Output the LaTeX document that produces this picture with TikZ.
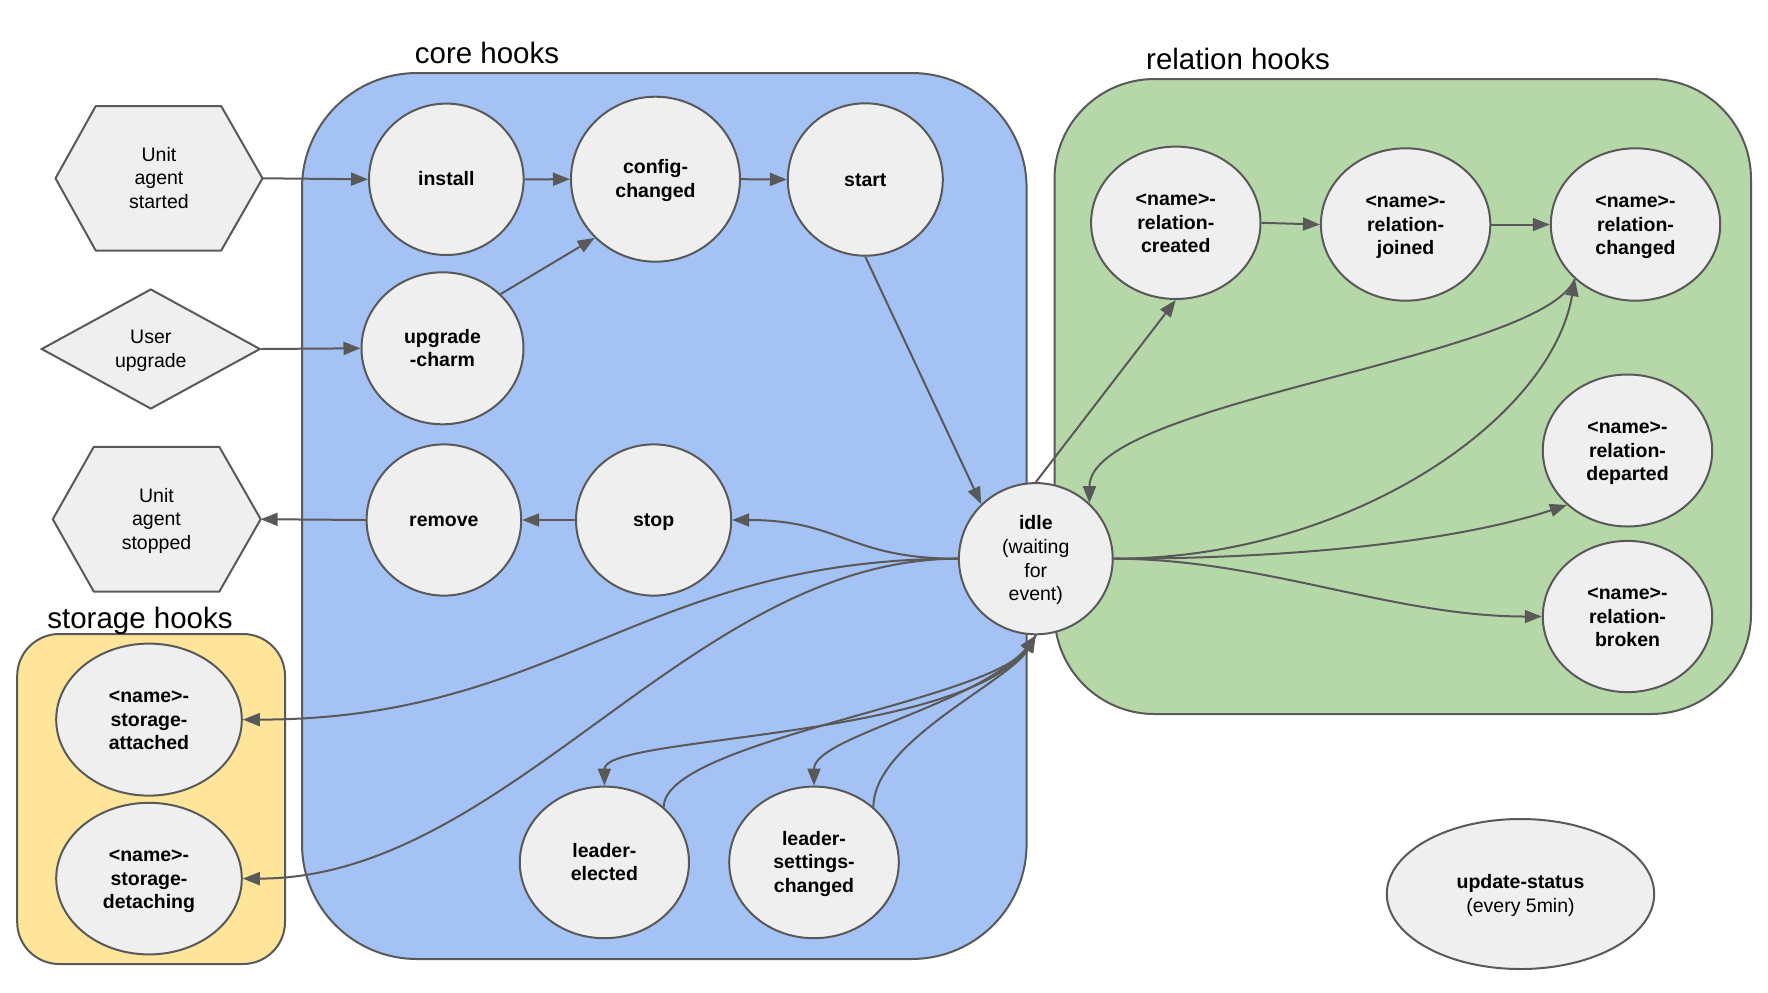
\documentclass[tikz,border=0pt]{standalone}
\usepackage{fontspec}
\setmainfont{Liberation Sans}
\usetikzlibrary{shapes.geometric,arrows.meta}
\definecolor{coreblue}{HTML}{A4C2F4}
\definecolor{relgreen}{HTML}{B6D7A8}
\definecolor{storyellow}{HTML}{FFE599}
\definecolor{nodegray}{HTML}{EFEFEF}
\definecolor{lineg}{HTML}{595959}
\newcommand\hktop{\rule{0pt}{8.7pt}}
\begin{document}
\begin{tikzpicture}[x=0.5pt,y=-0.5pt,
  struts/.style={execute at end node={\rule[-2.2pt]{0pt}{2.2pt}}},
  hook/.style={ellipse, draw=lineg, fill=nodegray, line width=1pt, inner sep=0pt,
    align=center, struts, font=\bfseries\fontsize{9.75}{11.8}\selectfont},
  idlenode/.style={hook, font=\fontsize{9.75}{11.8}\selectfont},
  evshape/.style={draw=lineg, fill=nodegray, line width=1pt, line join=round},
  evtext/.style={rectangle, draw=none, inner sep=0pt, align=center, struts,
    font=\fontsize{9.75}{11.8}\selectfont},
  dianode/.style={diamond, shape aspect=1.8, draw=lineg, fill=nodegray, line width=1pt,
    inner sep=0pt, align=center, struts, font=\fontsize{9.75}{11.8}\selectfont},
  grp/.style={draw=lineg, line width=1pt},
  heading/.style={anchor=base, inner sep=0pt, font=\fontsize{14.75}{17}\selectfont},
  conn/.style={draw=lineg, line width=1pt, -{Triangle[length=8.5pt,width=6.5pt]}},
]
\useasboundingbox (0,0) rectangle (1768,992);

% group boxes
\draw[grp, fill=coreblue, rounded corners=57.5pt] (302,73) rectangle (1026.6,959);
\draw[grp, fill=relgreen, rounded corners=50pt] (1054.5,79) rectangle (1751,714);
\draw[grp, fill=storyellow, rounded corners=21pt] (17.2,634) rectangle (285,964);

\node[heading] (hcore) at (487,63) {core hooks};
\node[heading] (hrel) at (1238,69) {relation hooks};
\node[heading] (hsto) at (140,628) {storage hooks};

% event shapes
\draw[evshape] (159,178.3) ++(-103.5,0) -- ++(40.2,-72.2) -- ++(125.5,0) -- ++(41.3,72.2)
  -- ++(-41.3,72.2) -- ++(-125.5,0) -- cycle;
\node[evtext, minimum width=103.5pt, minimum height=72.2pt] (h1) at (159,178.3) {\hktop Unit\\agent\\started};
\draw[evshape] (156.5,519.2) ++(-103.7,0) -- ++(41,-72.4) -- ++(125.5,0) -- ++(41.4,72.4)
  -- ++(-41.4,72.4) -- ++(-125.5,0) -- cycle;
\node[evtext, minimum width=103.7pt, minimum height=72.4pt] (h2) at (156.5,519.2) {\hktop Unit\\agent\\stopped};
\node[dianode, minimum width=109.5pt, minimum height=60pt] (dia) at (150.8,349) {\hktop User\\upgrade};

% core hooks
\node[hook, minimum width=77.3pt, minimum height=75.7pt] (install) at (446.3,179.3) {\hktop install};
\node[hook, minimum width=84.5pt, minimum height=82.5pt] (cfg) at (655.5,179.2) {\hktop config-\\changed};
\node[hook, minimum width=77.5pt, minimum height=76.2pt] (start) at (865.3,179.5) {\hktop start};
\node[hook, minimum width=81pt, minimum height=76pt] (upg) at (442.5,348.3) {\hktop upgrade\\-charm};
\node[hook, minimum width=77.3pt, minimum height=75.6pt] (remove) at (443.9,520) {\hktop remove};
\node[hook, minimum width=77.6pt, minimum height=75.6pt] (stop) at (653.6,520) {\hktop stop};
\node[idlenode, minimum width=76.9pt, minimum height=75.6pt] (idle) at (1035.8,558.7) {\hktop\textbf{idle}\\(waiting\\for\\event)};
\node[hook, minimum width=84.6pt, minimum height=75.8pt] (le) at (604.4,862.4) {\hktop leader-\\elected};
\node[hook, minimum width=84.8pt, minimum height=75.8pt] (lsc) at (814,862.4) {\hktop leader-\\settings-\\changed};

% storage hooks
\node[hook, minimum width=92.8pt, minimum height=76pt] (sa) at (149,719.6) {\hktop <name>-\\storage-\\attached};
\node[hook, minimum width=92.8pt, minimum height=75.8pt] (sd) at (149,878.6) {\hktop <name>-\\storage-\\detaching};

% relation hooks
\node[hook, minimum width=84.7pt, minimum height=76.2pt] (rc) at (1175.8,222.8) {\hktop <name>-\\relation-\\created};
\node[hook, minimum width=84.7pt, minimum height=76.2pt] (rj) at (1405.6,224.5) {\hktop <name>-\\relation-\\joined};
\node[hook, minimum width=84.7pt, minimum height=76.2pt] (rch) at (1635.5,224.5) {\hktop <name>-\\relation-\\changed};
\node[hook, minimum width=84.7pt, minimum height=76pt] (rd) at (1627.5,450.5) {\hktop <name>-\\relation-\\departed};
\node[hook, minimum width=84.7pt, minimum height=75.6pt] (rb) at (1627.5,616.5) {\hktop <name>-\\relation-\\broken};

% update-status
\node[idlenode, minimum width=133.7pt, minimum height=75pt] (us) at (1520.5,894) {\hktop\textbf{update-status}\\(every 5min)};

% connectors
\draw[conn] (h1.east) -- (install.west);
\draw[conn] (dia.east) -- (upg.west);
\draw[conn] (install.east) -- (cfg.west);
\draw[conn] (cfg.east) -- (start.west);
\draw[conn] (upg.43) -- (cfg.224);
\draw[conn] (start.south) -- (idle.135);
\draw[conn] (idle.west) .. controls +(-110,0) and +(110,0) .. (stop.east);
\draw[conn] (stop.west) -- (remove.east);
\draw[conn] (remove.west) -- (h2.east);
\draw[conn] (idle.west) .. controls +(-315,0) and +(315,0) .. (sa.east);
\draw[conn] (idle.west) .. controls +(-266,0) and +(266,0) .. (sd.east);
\draw[conn] (idle.south) .. controls +(-46,106) and +(0,-52) .. (le.north);
\draw[conn] (le.43) .. controls +(0,-66) and +(-46,66) .. (idle.south);
\draw[conn] (idle.south) .. controls +(-36,66) and +(0,-51) .. (lsc.north);
\draw[conn] (lsc.43) .. controls +(0,-66) and +(-26,46) .. (idle.south);
\draw[conn] (idle.north) -- (rc.south);
\draw[conn] (rc.east) -- (rj.west);
\draw[conn] (rj.east) -- (rch.west);
\draw[conn] (idle.east) .. controls +(237,0) and +(-24,140) .. (rch.222);
\draw[conn] (rch.222) .. controls +(-34,80) and +(0,-102) .. (idle.46);
\draw[conn] (idle.east) .. controls +(200,0) and +(-100,33) .. (rd.222);
\draw[conn] (idle.east) .. controls +(150,0) and +(-150,0) .. (rb.west);
\end{tikzpicture}
\end{document}
